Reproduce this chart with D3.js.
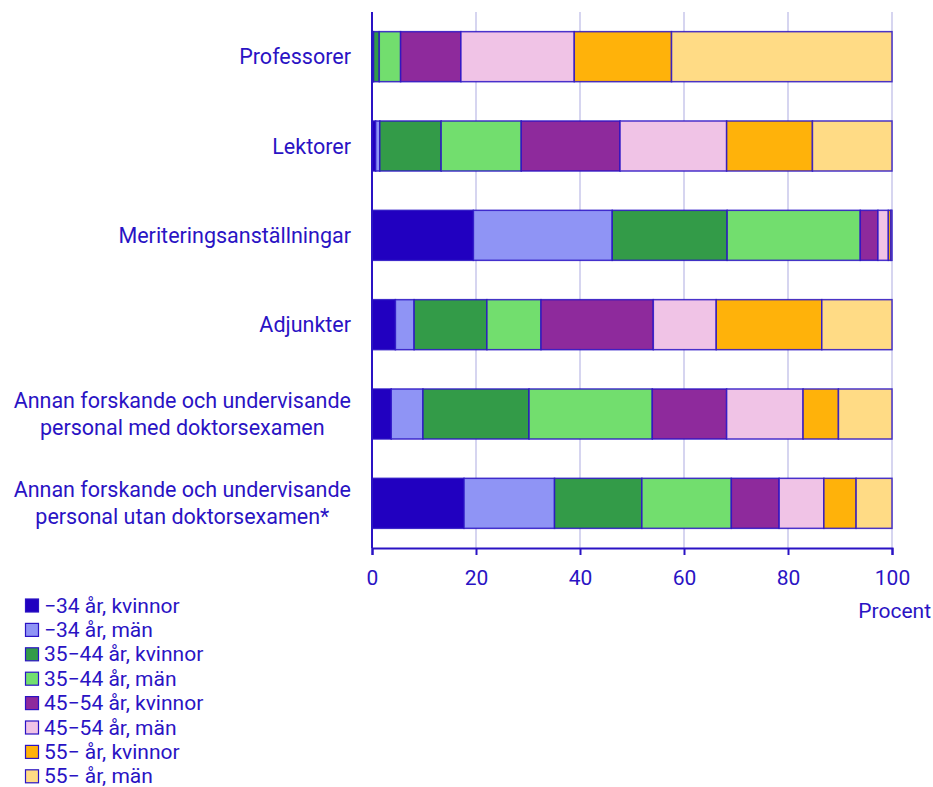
<!DOCTYPE html>
<html><head><meta charset="utf-8">
<script src="https://cdn.jsdelivr.net/npm/d3@7"></script>
<style>body{margin:0;background:#fff;} svg{display:block;font-family:Roboto, "Noto Sans", sans-serif;}</style>
</head><body>
<svg id="c" width="933" height="787"></svg>
<script>
const categories = [
  ["Professorer"],
  ["Lektorer"],
  ["Meriteringsanställningar"],
  ["Adjunkter"],
  ["Annan forskande och undervisande", "personal med doktorsexamen"],
  ["Annan forskande och undervisande", "personal utan doktorsexamen*"]
];
const seriesNames = ["−34 år, kvinnor","−34 år, män","35−44 år, kvinnor","35−44 år, män","45−54 år, kvinnor","45−54 år, män","55− år, kvinnor","55− år, män"];
const kv34 = [0.1, 0.7, 19.5, 4.5, 3.7, 17.7];
const m34  = [0.2, 0.8, 26.7, 3.6, 6.1, 17.4];
const kv35 = [1.1, 11.8, 22.1, 14.0, 20.4, 16.8];
const m35  = [4.1, 15.4, 25.6, 10.4, 23.7, 17.2];
const kv45 = [11.6, 19.0, 3.4, 21.6, 14.3, 9.2];
const m45  = [21.8, 20.5, 2.0, 12.1, 14.7, 8.6];
const kv55 = [18.7, 16.5, 0.5, 20.3, 6.8, 6.2];
const m55  = [42.4, 15.3, 0.2, 13.5, 10.3, 6.9];
const xTicks = [0, 20, 40, 60, 80, 100];
const colors = ["#2100c0","#8f94f5","#339b48","#72de6e","#8e2a9c","#f0c3e6","#ffb20a","#ffdb85"];

(function(){
const seriesVals = [kv34, m34, kv35, m35, kv45, m45, kv55, m55];
const ink = "#2a13c4";
const svg = d3.select("#c");
const pL = 372, pR = 892, pT = 12, pB = 548;
const x = d3.scaleLinear().domain([0, 100]).range([pL, pR]);
const y = d3.scaleBand().domain(d3.range(categories.length)).range([pT, pB]).paddingInner(0.44).paddingOuter(0.22);

svg.append("g").selectAll("line").data(xTicks.filter(d => d > 0)).join("line")
  .attr("x1", d => x(d)).attr("x2", d => x(d)).attr("y1", pT).attr("y2", pB)
  .attr("stroke", "#d6d5f0").attr("stroke-width", 2);

const rows = categories.map((c, i) => {
  const o = {i};
  seriesVals.forEach((s, k) => o["s" + k] = s[i]);
  return o;
});
const stack = d3.stack().keys(seriesVals.map((_, k) => "s" + k))(rows);
svg.append("g").selectAll("g").data(stack).join("g")
  .attr("fill", (d, k) => colors[k])
  .selectAll("rect").data(d => d).join("rect")
  .attr("x", d => x(d[0])).attr("width", d => x(d[1]) - x(d[0]))
  .attr("y", d => y(d.data.i)).attr("height", y.bandwidth())
  .attr("stroke", ink).attr("stroke-width", 1.5).attr("stroke-opacity", 0.85);

const xAxis = svg.append("g").attr("transform", `translate(0,${pB})`)
  .call(d3.axisBottom(x).tickValues(xTicks).tickSize(7).tickPadding(15));
xAxis.select(".domain").attr("stroke", ink).attr("stroke-width", 2);
xAxis.selectAll(".tick line").attr("stroke", ink).attr("stroke-width", 2);
xAxis.selectAll(".tick text").attr("fill", ink).attr("font-size", 21).attr("font-family", "Roboto");

svg.append("line").attr("x1", pL).attr("x2", pL).attr("y1", pT).attr("y2", pB)
  .attr("stroke", ink).attr("stroke-width", 2);

svg.append("text").attr("x", 931).attr("y", 617.5).attr("text-anchor", "end")
  .attr("fill", ink).attr("font-size", 21).text("Procent");

const labelRight = 351;
categories.forEach((lines, i) => {
  const cy = y(i) + y.bandwidth() / 2;
  const g = svg.append("g");
  const n = lines.length;
  const texts = lines.map((t, j) => g.append("text")
    .attr("y", cy + (j - (n - 1) / 2) * 27 + 7.5)
    .attr("fill", ink).attr("font-size", 21.5).text(t));
  const maxW = d3.max(texts, t => t.node().getComputedTextLength());
  texts.forEach(t => t.attr("text-anchor", "middle").attr("x", labelRight - maxW / 2));
});

const lg = svg.append("g");
seriesNames.forEach((name, k) => {
  const yy = 605.5 + k * 24.4;
  lg.append("rect").attr("x", 25.5).attr("y", yy - 6.5).attr("width", 13).attr("height", 13)
    .attr("fill", colors[k]).attr("stroke", ink).attr("stroke-width", 1.2);
  lg.append("text").attr("x", 44).attr("y", yy + 7).attr("fill", ink)
    .attr("font-size", 21).text(name);
});
})();
</script>
</body></html>
